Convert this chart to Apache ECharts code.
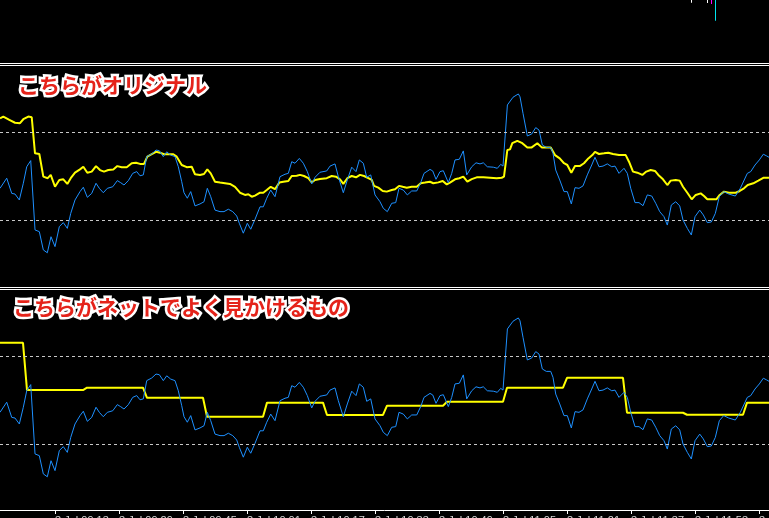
<!DOCTYPE html>
<html>
<head>
<meta charset="utf-8">
<script src="https://cdn.jsdelivr.net/npm/echarts@6/dist/echarts.min.js"></script>
<style>
html,body{margin:0;padding:0;background:#000;}
#chart{width:769px;height:518px;}
</style>
</head>
<body>
<div id="chart"></div>
<script>
// ---- data (x = M1 bar index, y = RSI value) ----
const rsiM1 = [[-0.75,44.4],[0.93,49.0],[2.18,42.1],[3.0,41.8],[4.08,39.1],[5.08,46.7],[5.93,54.2],[6.93,57.0],[8.0,25.5],[9.08,24.7],[10.08,16.4],[11.08,15.1],[12.0,22.4],[13.0,17.9],[14.08,27.0],[15.08,28.8],[16.08,26.2],[16.93,33.0],[18.0,39.1],[19.25,42.9],[20.08,44.9],[21.08,40.3],[22.18,42.1],[23.25,46.7],[24.08,44.4],[25.08,42.4],[26.08,44.4],[27.43,45.1],[28.58,47.9],[29.43,46.95],[30.25,45.9],[31.33,47.9],[32.43,51.2],[33.43,52.0],[34.25,50.1],[35.08,50.5],[35.93,58.8],[37.18,60.0],[38.25,61.8],[39.08,61.5],[40.08,58.8],[40.93,61.0],[41.93,59.5],[43.0,58.8],[43.83,54.2],[44.68,47.4],[45.25,42.4],[46.08,39.9],[46.93,42.9],[48.0,36.4],[49.25,37.3],[50.25,38.3],[51.08,44.4],[51.93,40.6],[53.0,34.5],[54.25,33.8],[55.25,33.8],[56.33,34.9],[57.43,33.8],[58.43,31.8],[59.08,28.5],[60.08,24.0],[61.08,28.5],[61.93,25.8],[63.0,30.3],[64.25,36.0],[65.08,36.0],[65.93,39.9],[66.93,43.6],[68.0,40.6],[69.25,49.7],[70.5,50.8],[71.33,51.2],[72.18,56.5],[73.0,55.8],[74.08,58.0],[75.08,55.8],[76.08,52.0],[77.18,46.4],[78.0,49.4],[79.25,51.7],[80.93,52.3],[81.75,54.5],[83.0,55.5],[83.83,49.7],[85.08,42.4],[86.08,48.2],[87.18,54.0],[88.25,52.0],[89.08,57.3],[90.08,55.8],[90.93,49.4],[91.93,50.5],[93.0,41.4],[94.25,38.3],[95.08,35.3],[96.08,33.8],[97.18,37.6],[98.18,37.9],[99.0,44.4],[100.08,43.6],[101.08,41.4],[102.18,43.2],[103.43,43.2],[104.43,47.0],[105.25,51.2],[106.75,53.0],[107.43,52.3],[108.25,48.5],[109.25,52.0],[110.08,52.4],[111.33,47.0],[112.18,51.2],[113.0,57.3],[114.08,57.6],[115.08,61.4],[115.93,50.5],[117.18,54.2],[118.25,56.0],[119.25,55.5],[120.08,56.0],[121.08,54.2],[122.58,54.0],[123.58,53.5],[124.43,55.3],[125.0,54.5],[126.1,82.3],[127.5,85.8],[128.83,87.3],[129.25,86.0],[130.0,78.5],[131.08,68.2],[132.18,69.1],[133.18,72.0],[134.0,70.9],[134.83,64.1],[135.83,63.0],[136.93,63.0],[137.5,60.3],[138.18,52.7],[139.18,48.2],[140.25,42.9],[141.08,42.9],[142.08,37.3],[143.0,44.7],[144.0,44.4],[145.0,45.5],[146.08,50.5],[147.18,55.0],[148.0,58.5],[149.0,54.2],[150.0,54.5],[151.08,55.5],[152.18,54.2],[153.0,54.5],[154.0,51.2],[155.25,53.5],[156.08,51.2],[156.93,44.4],[158.0,37.9],[159.0,37.9],[160.0,36.5],[161.08,41.4],[162.18,40.9],[163.18,37.6],[164.18,33.8],[165.25,31.5],[166.08,27.7],[167.08,36.8],[168.18,38.3],[169.18,36.4],[170.0,30.0],[171.08,26.2],[172.08,23.2],[173.0,31.5],[174.18,34.5],[175.08,32.3],[176.08,28.8],[177.08,29.1],[178.08,33.0],[179.08,40.6],[180.18,42.9],[181.43,41.8],[183.08,40.9],[184.33,44.4],[186.08,51.2],[186.93,52.0],[188.0,55.0],[189.08,57.3],[190.08,59.9],[190.93,59.1],[191.5,58.5]];

const rsiM15Live = [[-0.75,76.2],[0.08,77.0],[1.58,75.5],[3.0,74.2],[4.25,74.0],[5.08,75.8],[6.33,77.0],[7.18,76.7],[8.0,60.3],[9.08,60.0],[10.08,49.7],[11.18,49.0],[11.93,50.5],[13.0,45.1],[14.08,48.2],[15.08,48.5],[16.08,46.4],[16.93,49.0],[18.0,51.5],[19.25,53.0],[20.08,54.2],[21.08,51.5],[22.18,52.0],[23.25,54.5],[24.25,52.7],[25.25,52.0],[26.33,52.7],[27.58,53.0],[28.58,54.5],[29.68,54.0],[30.93,54.0],[32.18,55.8],[33.25,56.0],[34.25,55.5],[35.25,55.5],[36.08,58.8],[37.18,59.9],[38.25,61.0],[39.25,60.6],[40.25,59.9],[41.33,59.9],[42.58,59.9],[43.43,58.8],[44.68,55.0],[45.93,54.0],[47.18,54.2],[48.0,50.8],[49.25,50.5],[50.25,50.9],[51.08,53.0],[51.93,51.2],[53.0,47.4],[54.25,47.0],[55.5,46.7],[56.75,46.4],[58.0,45.1],[59.25,42.4],[60.5,41.4],[61.33,41.7],[62.18,40.6],[63.0,41.1],[64.25,42.4],[65.08,42.4],[65.93,43.6],[66.93,45.1],[68.0,44.0],[69.08,47.0],[70.08,47.4],[71.33,47.7],[72.18,50.0],[73.43,50.1],[74.25,50.5],[75.25,50.0],[76.33,49.0],[77.18,47.1],[78.0,48.2],[79.25,48.6],[80.93,49.0],[82.18,50.0],[83.25,49.7],[84.25,48.5],[85.08,46.4],[86.08,49.0],[87.18,50.0],[88.25,49.4],[89.25,50.5],[90.25,50.0],[91.33,49.0],[92.18,48.2],[92.75,45.5],[93.83,44.7],[94.93,43.2],[95.93,42.9],[97.18,43.6],[98.0,44.0],[99.0,45.5],[99.93,45.1],[100.93,44.7],[102.18,45.1],[103.43,45.1],[104.43,46.7],[105.5,47.0],[106.75,47.4],[107.58,46.7],[108.83,47.1],[109.93,47.7],[110.93,46.2],[111.75,47.0],[113.0,48.5],[114.08,49.0],[115.08,49.7],[116.08,47.4],[117.18,48.6],[118.43,49.4],[120.08,49.4],[121.75,49.2],[123.43,49.0],[124.68,49.2],[125.25,49.7],[126.08,61.8],[126.75,62.1],[127.33,64.9],[128.58,66.0],[129.83,64.9],[131.08,62.9],[132.18,63.0],[133.58,64.9],[134.68,63.0],[135.83,63.0],[136.93,63.0],[138.0,59.5],[139.18,58.0],[140.25,55.8],[141.08,55.0],[142.08,51.5],[143.0,54.5],[144.18,54.5],[145.25,55.8],[146.33,58.0],[147.33,59.5],[148.0,61.0],[149.0,60.0],[150.25,60.3],[151.33,60.6],[152.5,60.0],[154.0,59.5],[155.68,59.5],[156.5,56.5],[157.5,52.0],[158.58,51.5],[159.83,50.5],[160.83,52.0],[161.93,52.7],[163.0,52.3],[163.83,50.5],[165.0,48.5],[166.08,45.9],[166.93,47.9],[168.18,48.2],[169.18,47.9],[170.0,45.1],[171.08,42.4],[172.18,39.4],[173.18,41.4],[174.43,42.1],[175.25,40.9],[176.08,39.4],[177.33,39.4],[178.33,39.4],[179.18,41.4],[180.25,42.9],[181.5,42.4],[183.18,42.4],[184.18,43.2],[185.25,44.4],[186.18,45.9],[187.58,46.7],[188.83,47.9],[190.08,49.2],[191.5,49.2]];

// closed M15 RSI values, one per M15 period (each 15 M1 bars)
const rsiM15Closed = [76.0, 54.5, 55.6, 51.0, 42.4, 48.8, 43.2, 47.4, 49.2, 55.6, 60.1, 44.2, 43.3, 48.8];
const firstPeriodStartBar = 6;   // bar where the 2nd period starts
const barsPerPeriod = 15;
const firstBar = -1, lastBar = 192;

const levels = [70, 30];

const tickBars = [13, 29, 45, 61, 77, 93, 109, 125, 141, 157, 173, 189];
const tickLabels = ['3 Jul 09:13','3 Jul 09:29','3 Jul 09:45','3 Jul 10:01','3 Jul 10:17','3 Jul 10:33','3 Jul 10:49','3 Jul 11:05','3 Jul 11:21','3 Jul 11:37','3 Jul 11:53','3 Jul 12:09'];

// main-chart fragments visible at the top right: [bar, top, bottom, color]
const mainMarks = [[172, 0, 2.7, '#ffffff'], [176, 0, 3, '#ffffff'], [177, 0, 4, '#ff00ff'], [178, 0, 20.7, '#00e5ee']];

const title1 = 'こちらがオリジナル';
const title2 = 'こちらがネットでよく見かけるもの';

// ---- build step series from closed periods ----
const stepData = [];
for (let i = firstBar; i <= lastBar; i++) {
  const p = Math.floor((i - firstPeriodStartBar) / barsPerPeriod) + 1;
  stepData.push([i, rsiM15Closed[Math.max(0, Math.min(p, rsiM15Closed.length - 1))]]);
}

const chart = echarts.init(document.getElementById('chart'), null, {renderer: 'canvas'});
const xMin = -0.75, xMax = 191.5;
const hiddenX = (gi) => ({type: 'value', gridIndex: gi, min: xMin, max: xMax, show: false});
const hiddenY = (gi, mn, mx, inv) => ({type: 'value', gridIndex: gi, min: mn, max: mx, inverse: !!inv, show: false, splitLine: {show: false}});
const levelLines = {
  silent: true, symbol: 'none', animation: false,
  label: {show: false},
  lineStyle: {color: '#c8c8c8', type: [3, 3], width: 1},
  data: levels.map(v => ({yAxis: v}))
};
const fontCJK = '"Noto Sans CJK JP", "Noto Sans CJK SC", sans-serif';
function titleEls(text, x, y) {
  return [
    {type: 'text', x: x, y: y, z: 100, style: {text: text, font: 'bold 21px ' + fontCJK, fill: '#ffffff', stroke: '#ffffff', lineWidth: 5, verticalAlign: 'middle', align: 'left', shadowColor: 'rgba(120,120,120,0.9)', shadowBlur: 3, shadowOffsetX: 1, shadowOffsetY: 1}},
    {type: 'text', x: x, y: y, z: 101, style: {text: text, font: 'bold 21px ' + fontCJK, fill: '#e5231a', verticalAlign: 'middle', align: 'left'}}
  ];
}
const gridBase = {left: 0, width: 769, containLabel: false, outerBoundsMode: 'none'};

chart.setOption({
  backgroundColor: '#000000',
  animation: false,
  grid: [
    Object.assign({top: 0, height: 62}, gridBase),
    Object.assign({top: 66, height: 220}, gridBase),
    Object.assign({top: 290, height: 220}, gridBase)
  ],
  xAxis: [
    hiddenX(0), hiddenX(1),
    {
      type: 'value', gridIndex: 2, min: xMin, max: xMax, offset: 1,
      axisLine: {show: true, lineStyle: {color: '#ffffff', width: 1}},
      axisTick: {show: true, customValues: tickBars, length: 4, lineStyle: {color: '#ffffff'}},
      axisLabel: {show: true, customValues: tickBars, margin: 4.5, align: 'left', color: '#d8d8d8', fontSize: 11, fontFamily: 'Liberation Sans, sans-serif',
        hideOverlap: false,
        formatter: v => { const k = tickBars.indexOf(Math.round(v)); return k >= 0 ? tickLabels[k] : ''; }},
      splitLine: {show: false}
    }
  ],
  yAxis: [hiddenY(0, 0, 62, true), hiddenY(1, 0, 100), hiddenY(2, 0, 100)],
  series: [
    {
      type: 'custom', xAxisIndex: 0, yAxisIndex: 0, data: mainMarks,
      renderItem: function (params, api) {
        const p1 = api.coord([api.value(0), api.value(1)]);
        const p2 = api.coord([api.value(0), api.value(2)]);
        const c = mainMarks[params.dataIndex][3];
        return {type: 'rect', shape: {x: Math.round(p1[0]), y: p1[1], width: 1, height: p2[1] - p1[1]}, style: {fill: c}};
      }
    },
    {type: 'line', xAxisIndex: 1, yAxisIndex: 1, data: rsiM15Live, showSymbol: false, symbol: 'none',
      lineStyle: {color: '#ffff00', width: 2}, z: 3, markLine: levelLines},
    {type: 'line', xAxisIndex: 1, yAxisIndex: 1, data: rsiM1, showSymbol: false, symbol: 'none',
      lineStyle: {color: '#1e90ff', width: 1}, z: 4},
    {type: 'line', xAxisIndex: 2, yAxisIndex: 2, data: stepData, showSymbol: false, symbol: 'none',
      lineStyle: {color: '#ffff00', width: 2}, z: 3, markLine: levelLines},
    {type: 'line', xAxisIndex: 2, yAxisIndex: 2, data: rsiM1, showSymbol: false, symbol: 'none',
      lineStyle: {color: '#1e90ff', width: 1}, z: 4}
  ],
  graphic: [
    {type: 'rect', silent: true, shape: {x: 0, y: 63, width: 769, height: 1}, style: {fill: '#ffffff'}},
    {type: 'rect', silent: true, shape: {x: 0, y: 65, width: 769, height: 1}, style: {fill: '#ffffff'}},
    {type: 'rect', silent: true, shape: {x: 0, y: 287, width: 769, height: 1}, style: {fill: '#ffffff'}},
    {type: 'rect', silent: true, shape: {x: 0, y: 289, width: 769, height: 1}, style: {fill: '#ffffff'}}
  ].concat(titleEls(title1, 18, 85), titleEls(title2, 13, 307))
});
</script>
</body>
</html>
